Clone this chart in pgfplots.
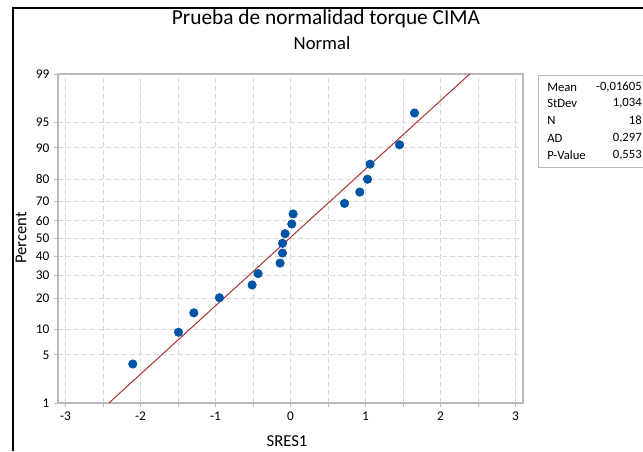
\documentclass[border=0pt]{standalone}
\usepackage{pgfplots}
\pgfplotsset{compat=1.18}
\usepackage{fontspec}
\setmainfont{Carlito}
\definecolor{ptblue}{RGB}{0,84,166}
\definecolor{fitred}{RGB}{172,50,50}
\definecolor{gridgray}{RGB}{215,215,215}
\definecolor{axgray}{RGB}{185,185,185}
\pgfplotstableread{
x z
-2.103 -1.7744
-1.493 -1.3260
-1.289 -1.0510
-0.947 -0.8380
-0.512 -0.6570
-0.432 -0.4964
-0.139 -0.3476
-0.107 -0.2056
-0.107 -0.0682
-0.072 0.0682
0.017 0.2056
0.035 0.3476
0.720 0.4964
0.924 0.6570
1.027 0.8380
1.061 1.0510
1.453 1.3260
1.653 1.7744
}\resdata
\begin{document}
\begin{tikzpicture}
\useasboundingbox (0pt,0pt) rectangle (482.25pt,-338.25pt);
\begin{axis}[
  at={(43.5pt,-302.25pt)}, anchor=south west,
  scale only axis, width=348.75pt, height=246.75pt,
  xmin=-3.1, xmax=3.1, ymin=-2.3263, ymax=2.3263,
  xtick={-3,-2,-1,0,1,2,3},
  xticklabels={-3,-2,-1,0,1,2,3},
  minor xtick={-2.5,-1.5,-0.5,0.5,1.5,2.5},
  ytick={-2.3263,-1.6449,-1.2816,-0.8416,-0.5244,-0.2533,0,0.2533,0.5244,0.8416,1.2816,1.6449,2.3263},
  yticklabels={1,5,10,20,30,40,50,60,70,80,90,95,99},
  grid=both,
  major grid style={gridgray, dash pattern=on 3.5pt off 2.5pt, line width=0.6pt},
  minor grid style={gridgray, dash pattern=on 3.5pt off 2.5pt, line width=0.6pt},
  axis line style={axgray, line width=1.2pt},
  tick style={axgray, line width=0.6pt},
  tick align=outside, xtick pos=bottom, ytick pos=left,
  major tick length=3pt, minor tick length=3pt,
  tick label style={font=\fontsize{10}{11}\selectfont, black},
  /pgf/number format/assume math mode=true,
  clip=true,
]
\addplot[fitred, line width=0.75pt] coordinates {(-2.4213,-2.3263) (2.3892,2.3263)};
\addplot[only marks, mark=*, mark size=3.2pt, color=ptblue, mark options={draw=ptblue, fill=ptblue}] table[x=x, y=z] {\resdata};
\end{axis}
\begin{scope}[x=0.75pt, y=-0.75pt]
\draw[black, line width=1.5pt] (13,451) -- (13,8) -- (643,8);
\node[font=\fontsize{16}{18}\selectfont] at (326,19) {Prueba de normalidad torque CIMA};
\node[font=\fontsize{14}{16}\selectfont] at (322,43) {Normal};
\node[font=\fontsize{12.5}{14}\selectfont] at (287,441) {SRES1};
\node[font=\fontsize{12.5}{14}\selectfont, rotate=90] at (21,238) {Percent};
\draw[axgray, line width=0.6pt] (643,75) -- (538,75) -- (538,167) -- (643,167);
\foreach \lab/\val/\yy in {Mean/{-0,01605}/87, StDev/{1,034}/103, N/{18}/120, AD/{0,297}/138, P-Value/{0,553}/155}{
  \node[font=\fontsize{9.5}{10}\selectfont, anchor=west, inner xsep=0pt] at (547,\yy) {\lab};
  \node[font=\fontsize{9.5}{10}\selectfont, anchor=east, inner xsep=0pt] at (642,\yy) {\val};
}
\end{scope}
\end{tikzpicture}
\end{document}
